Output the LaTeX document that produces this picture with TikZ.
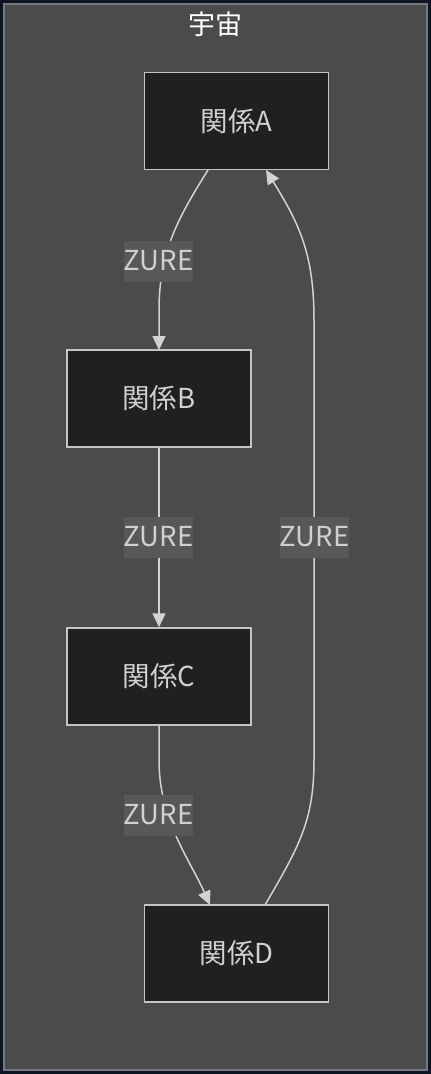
\documentclass[tikz,border=0pt]{standalone}
\usepackage{fontspec}
\setmainfont{Noto Sans CJK JP}
\usetikzlibrary{arrows.meta}
\definecolor{bgnavy}{HTML}{0E1422}
\definecolor{clfill}{HTML}{4A4B4A}
\definecolor{clborder}{HTML}{767A80}
\definecolor{nodefill}{HTML}{1F2020}
\definecolor{nodeborder}{HTML}{C4C4C4}
\definecolor{edgecol}{HTML}{D2D2D2}
\definecolor{lblfill}{HTML}{575857}
\definecolor{txtcol}{HTML}{D0D0D0}
\tikzset{
  relbox/.style={draw=nodeborder, line width=1.5pt, fill=nodefill, minimum width=184pt, minimum height=97pt, inner sep=0pt, text=txtcol, font=\fontsize{27.5}{32}\selectfont},
  lbl/.style={fill=lblfill, text=txtcol, inner sep=0pt, minimum width=67pt, minimum height=41pt, font=\fontsize{27.5}{32}\selectfont},
  edge/.style={draw=edgecol, line width=1.5pt, -{Triangle[length=14pt,width=13pt]}},
}
\begin{document}
\begin{tikzpicture}[x=1pt,y=-1pt]
\fill[bgnavy] (0,0) rectangle (431,1074);
\useasboundingbox (0,0) rectangle (431,1074);
\draw[clborder, fill=clfill, line width=2pt] (4,4) rectangle (427,1070);
\node[text=white, font=\fontsize{27}{32}\selectfont] (title) at (215.5,24) {宇宙};
\node[relbox] (A) at (236.5,121) {関係A};
\node[relbox] (B) at (159,398.5) {関係B};
\node[relbox] (C) at (159,676.5) {関係C};
\node[relbox] (D) at (236.5,953.5) {関係D};
\coordinate (a1) at (208,170);
\coordinate (b0) at (159,350);
\coordinate (d1) at (265,905);
\coordinate (a2) at (266,170);
\coordinate (d0) at (210,905);
\draw[edge] (a1) .. controls (180,215) and (159,250) .. (159,310) -- (b0);
\draw[edge] (B.south) -- (C.north);
\draw[edge] (C.south) -- (159,760) .. controls (159,820) and (190,860) .. (d0);
\draw[edge] (d1) .. controls (300,845) and (314,820) .. (314,760) -- (314,320) .. controls (314,255) and (300,225) .. (a2);
\node[lbl] (l1) at (158.5,261) {ZURE};
\node[lbl] (l2) at (158.5,537) {ZURE};
\node[lbl] (l3) at (158.5,815) {ZURE};
\node[lbl] (l4) at (314.5,537) {ZURE};
\end{tikzpicture}
\end{document}
